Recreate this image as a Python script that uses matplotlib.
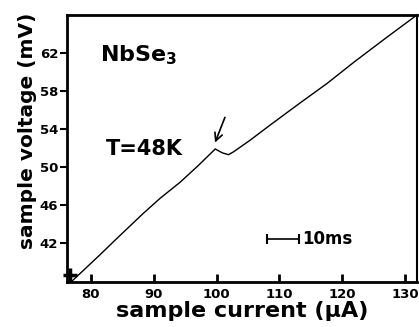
import numpy as np
import matplotlib
matplotlib.use("Agg")
import matplotlib.pyplot as plt

plt.rcParams['font.family'] = ['DejaVu Sans']

# trace
current = np.array([77.0, 81.5, 84.0, 88.3, 91.0, 94.2, 97.0, 99.8, 100.9, 101.9,
                    102.7, 105.3, 108.5, 113.0, 117.6, 122.0, 127.0, 131.9])
voltage = np.array([38.0, 40.8, 42.4, 45.1, 46.7, 48.4, 50.1, 51.9, 51.5, 51.3,
                    51.6, 52.8, 54.4, 56.6, 58.8, 61.1, 63.6, 66.0])

xticks = [80, 90, 100, 110, 120, 130]
yticks = [42, 46, 50, 54, 58, 62]

fig = plt.figure(figsize=(4.19, 3.27), dpi=100)
ax = fig.add_axes([0.160, 0.1376, 0.835, 0.8165])

ax.plot(current, voltage, '-', color='black', lw=1.0)
ax.plot([76.6], [38.6], '+', color='black', ms=10, mew=2.5, clip_on=False)

ax.set_xlim(76.2, 131.9)
ax.set_ylim(37.9, 66.0)
ax.set_xticks(xticks)
ax.set_yticks(yticks)
ax.tick_params(axis='x', direction='in', length=6, width=2, pad=4, labelsize=9.5)
ax.tick_params(axis='y', direction='out', length=5, width=1.5, pad=1.5, labelsize=9.5)
for lab in ax.get_xticklabels() + ax.get_yticklabels():
    lab.set_fontweight('bold')

for s in ['left', 'bottom', 'top']:
    ax.spines[s].set_linewidth(2.0)
ax.spines['right'].set_linewidth(1.5)

ax.set_xlabel('sample current (\u03bcA)', fontsize=16, fontweight='bold', labelpad=0)
ax.set_ylabel('sample voltage (mV)', fontsize=14.5, fontweight='bold')
ax.yaxis.set_label_coords(-0.086, 0.566)

ax.text(81.5, 61.1, 'NbSe$_\\mathbf{3}$', fontsize=16, fontweight='bold', va='baseline')
ax.text(82.4, 51.3, 'T=48K', fontsize=15, fontweight='bold', va='baseline')

ax.annotate('', xy=(99.6, 52.3), xytext=(101.5, 55.5),
            arrowprops=dict(arrowstyle='->', color='black', lw=1.2, mutation_scale=14))

# 10 ms scale bar
ax.plot([108.1, 113.2], [42.4, 42.4], '-', color='black', lw=1.2)
ax.plot([108.1, 113.2], [42.4, 42.4], '|', color='black', ms=7, mew=1.5)
ax.text(113.6, 42.4, '10ms', fontsize=12, fontweight='bold', va='center')

fig.savefig('out.png', dpi=100)
